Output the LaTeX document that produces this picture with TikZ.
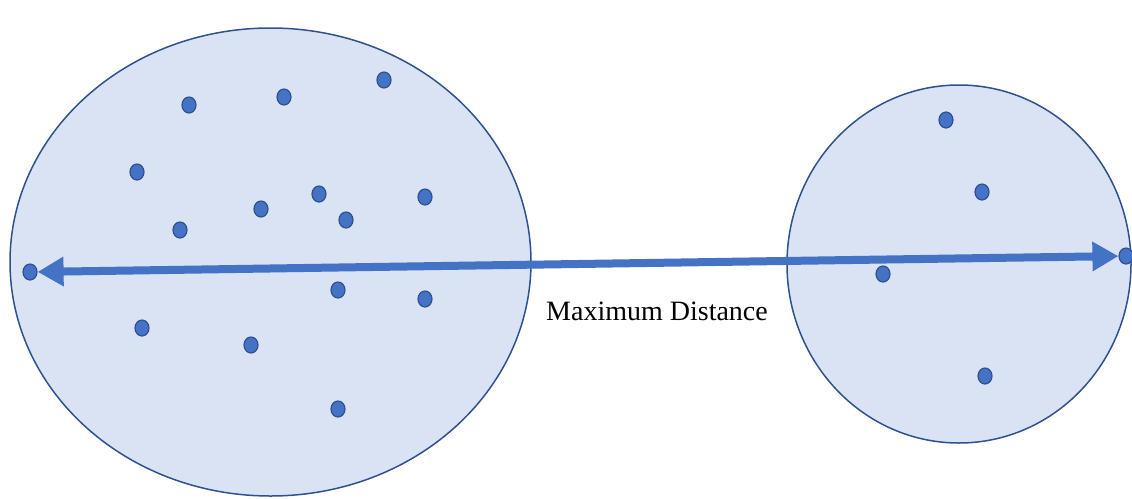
\documentclass[tikz,border=0pt]{standalone}
\usepackage{fontspec}
\setmainfont{Liberation Serif}
\definecolor{fillblue}{HTML}{DAE3F3}
\definecolor{edgeblue}{HTML}{2F528F}
\definecolor{accent}{HTML}{4472C4}
\usetikzlibrary{shapes.geometric, arrows.meta, positioning}

\begin{document}
\begin{tikzpicture}[
    x=1pt, y=-1pt,
    cluster/.style={ellipse, draw=edgeblue, fill=fillblue, line width=1.5pt,
        inner sep=0pt},
    pt/.style={ellipse, draw=edgeblue, fill=accent, line width=1.2pt,
        minimum width=14pt, minimum height=16pt, inner sep=0pt},
    arr/.style={{Triangle[length=26pt,width=28pt]}-{Triangle[length=26pt,width=28pt]},
        line width=8pt, accent}
]
\useasboundingbox (0,0) rectangle (1132,498);

% the two clusters
\node[cluster, minimum width=521pt, minimum height=468pt] (left) at (270.5,262) {};
\node[cluster, minimum width=344pt, minimum height=358pt] (right) at (959,264) {};

% points of the left cluster
\node[pt] (l1) at (189,105) {};
\node[pt] (l2) at (284,97) {};
\node[pt] (l3) at (384,80) {};
\node[pt] (l4) at (137,172) {};
\node[pt] (l5) at (261,209) {};
\node[pt] (l6) at (319,194) {};
\node[pt] (l7) at (346,220) {};
\node[pt] (l8) at (425,197) {};
\node[pt] (l9) at (180,230) {};
\node[pt] (l10) at (338,290) {};
\node[pt] (l11) at (425,299) {};
\node[pt] (l12) at (142,328) {};
\node[pt] (l13) at (251,345) {};
\node[pt] (l14) at (338,409) {};
\node[pt] (lend) at (30,272) {};

% points of the right cluster
\node[pt] (r1) at (946,120) {};
\node[pt] (r2) at (982,192) {};
\node[pt] (r3) at (883,274) {};
\node[pt] (r4) at (985,376) {};
\node[pt] (rend) at (1126,256) {};

\draw[arr] (lend) -- (rend);
\node[font=\fontsize{28}{32}\selectfont] (lbl) at (657,311) {Maximum Distance};
\end{tikzpicture}
\end{document}
